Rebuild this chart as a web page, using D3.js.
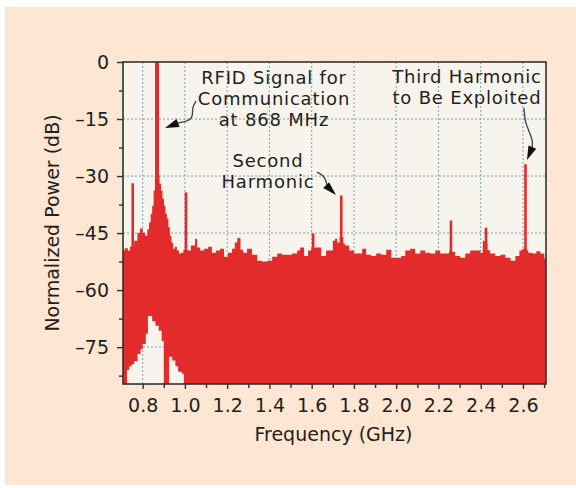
<!DOCTYPE html>
<html>
<head>
<meta charset="utf-8">
<script src="https://cdn.jsdelivr.net/npm/d3@7/dist/d3.min.js"></script>
<style>
  html, body { margin: 0; padding: 0; background: #ffffff; }
  svg { display: block; }
  text { font-family: "DejaVu Sans", sans-serif; fill: #231f20; }
</style>
</head>
<body>
<svg id="chart" width="576" height="488"></svg>
<script>
// Upper envelope of the measured noise floor (GHz, dB)
const envFreq = [0.700, 0.715, 0.730, 0.740, 0.760, 0.775, 0.787, 0.800, 0.812, 0.822, 0.830, 0.838, 0.845,
  0.852, 0.858, 0.863, 0.874, 0.880, 0.887, 0.894, 0.901, 0.908, 0.915, 0.922, 0.929, 0.936, 0.944, 0.953,
  0.962, 0.972, 0.981, 0.993, 1.012, 1.019, 1.028, 1.038, 1.048, 1.058, 1.072, 1.090, 1.110, 1.128, 1.147,
  1.166, 1.185, 1.204, 1.223, 1.236, 1.248, 1.262, 1.275, 1.294, 1.318, 1.342, 1.365, 1.389, 1.413, 1.437,
  1.460, 1.484, 1.507, 1.531, 1.545, 1.564, 1.583, 1.598, 1.615, 1.626, 1.645, 1.668, 1.688, 1.700, 1.710,
  1.721, 1.732, 1.750, 1.758, 1.777, 1.801, 1.820, 1.839, 1.858, 1.882, 1.905, 1.929, 1.953, 1.977, 2.000,
  2.024, 2.043, 2.066, 2.090, 2.114, 2.137, 2.161, 2.185, 2.208, 2.232, 2.250, 2.268, 2.279, 2.303, 2.327,
  2.350, 2.374, 2.398, 2.410, 2.418, 2.432, 2.445, 2.469, 2.493, 2.517, 2.541, 2.564, 2.583, 2.597, 2.618,
  2.625, 2.644, 2.663, 2.682, 2.701, 2.710];
const envTop = [-49.6, -49.0, -49.6, -48.5, -47.0, -45.0, -43.8, -44.9, -45.7, -44.0, -42.2, -40.0, -37.8,
  -33.8, -30.0, -26.0, -29.8, -32.0, -33.8, -36.0, -37.8, -40.0, -41.2, -43.5, -45.7, -47.5, -49.1, -48.6,
  -49.6, -50.4, -50.2, -49.4, -49.6, -49.6, -48.3, -48.3, -46.5, -48.8, -49.6, -49.1, -48.6, -50.2, -49.6,
  -49.1, -51.2, -50.2, -49.1, -47.5, -46.5, -49.4, -50.2, -49.1, -50.7, -52.3, -52.5, -52.3, -51.2, -50.4,
  -50.7, -50.7, -50.4, -49.6, -48.8, -51.0, -49.6, -49.0, -48.8, -48.8, -51.0, -49.6, -49.6, -47.0, -46.5,
  -47.5, -46.0, -47.8, -48.3, -49.6, -50.4, -50.4, -49.1, -50.7, -51.0, -50.4, -50.7, -49.4, -51.5, -51.5,
  -51.0, -49.6, -49.1, -50.4, -49.6, -50.2, -50.4, -49.6, -50.4, -50.4, -49.8, -50.0, -51.0, -51.5, -50.4,
  -49.6, -49.6, -50.2, -47.0, -47.5, -49.5, -50.4, -51.0, -50.7, -51.5, -52.3, -51.0, -49.6, -49.1, -49.5,
  -50.2, -50.4, -49.8, -50.4, -51.7, -51.7];

// Openings at the bottom of the noise band (GHz, dB of the lowest sample reached)
const gapFreq = [0.722, 0.726, 0.736, 0.748, 0.760, 0.776, 0.790, 0.800, 0.815, 0.825, 0.845, 0.860, 0.876, 0.890, 0.900];
const gapLow  = [-85, -81.0, -80.0, -79.5, -78.7, -76.8, -75.5, -74.2, -71.5, -66.8, -68.1, -69.4, -70.7, -73.4, -85];
const gap2Freq = [0.915, 0.925, 0.940, 0.955, 0.968, 0.985, 0.995];
const gap2Low  = [-85, -77.5, -78.5, -80.0, -81.5, -82.0, -85];

// Discrete spectral lines (GHz, dB)
const lineFreq = [0.753, 0.868, 1.005, 1.256, 1.607, 1.740, 2.259, 2.425, 2.612];
const lineDb   = [-31.9, 0, -34.3, -46.3, -45.1, -35.1, -41.7, -43.6, -26.9];

// Axis ticks
const xTicks = [0.8, 1.0, 1.2, 1.4, 1.6, 1.8, 2.0, 2.2, 2.4, 2.6];
const xMinor = [0.9, 1.1, 1.3, 1.5, 1.7, 1.9, 2.1, 2.3, 2.5, 2.7];
const yTicks = [0, -15, -30, -45, -60, -75];
const yMinor = [-7.5, -22.5, -37.5, -52.5, -67.5, -82.5];

// Callouts
const rfidText = ["RFID Signal for", "Communication", "at 868 MHz"];
const secondText = ["Second", "Harmonic"];
const thirdText = ["Third Harmonic", "to Be Exploited"];

const svg = d3.select("#chart");
const RED = "#e22b2a";
const PLOT_BG = "#f6f4ec";

svg.append("rect").attr("x", 5).attr("y", 7).attr("width", 571).attr("height", 478).attr("fill", "#fde7d2");

const L = 123, T = 62, R = 546, B = 384;
const x = d3.scaleLinear().domain([0.707, 2.709]).range([L, R]);
const y = d3.scaleLinear().domain([-84.7, 0]).range([B, T]);

svg.append("rect").attr("x", L).attr("y", T).attr("width", R - L).attr("height", B - T).attr("fill", PLOT_BG);

// dotted grid
const grid = svg.append("g").attr("stroke", "#7f9db0").attr("stroke-width", 1).attr("stroke-dasharray", "2,2");
grid.selectAll("line.v").data(xTicks).join("line")
  .attr("x1", d => x(d)).attr("x2", d => x(d)).attr("y1", T).attr("y2", B);
grid.selectAll("line.h").data(yTicks.filter(d => d !== 0)).join("line")
  .attr("x1", L).attr("x2", R).attr("y1", d => y(d)).attr("y2", d => y(d));

// clip + mask for the noise band
const defs = svg.append("defs");
defs.append("clipPath").attr("id", "plotClip").append("rect")
  .attr("x", L).attr("y", T).attr("width", R - L).attr("height", B - T);
const mask = defs.append("mask").attr("id", "gapMask");
mask.append("rect").attr("x", 0).attr("y", 0).attr("width", 576).attr("height", 488).attr("fill", "white");
const gapArea = d3.area().x(d => x(d[0])).y0(y(-84.7)).y1(d => y(d[1])).curve(d3.curveStepAfter);
mask.append("path").attr("d", gapArea(gapFreq.map((f, i) => [f, gapLow[i]]))).attr("fill", "black");
mask.append("path").attr("d", gapArea(gap2Freq.map((f, i) => [f, gap2Low[i]]))).attr("fill", "black");

const plot = svg.append("g").attr("clip-path", "url(#plotClip)");
const band = d3.area().x(d => x(d[0])).y0(y(-84.7)).y1(d => y(d[1])).curve(d3.curveStepAfter);
plot.append("path")
  .attr("d", band(envFreq.map((f, i) => [f, envTop[i]])))
  .attr("fill", RED).attr("mask", "url(#gapMask)");

plot.selectAll("line.spike").data(lineFreq.map((f, i) => [f, lineDb[i]])).join("line")
  .attr("x1", d => x(d[0])).attr("x2", d => x(d[0]))
  .attr("y1", y(-60)).attr("y2", d => y(d[1]))
  .attr("stroke", RED).attr("stroke-width", d => d[1] === 0 ? 4 : 2.6);

// frame
svg.append("rect").attr("x", L).attr("y", T).attr("width", R - L).attr("height", B - T)
  .attr("fill", "none").attr("stroke", "#2c3336").attr("stroke-width", 1.6);

// axes
const fmtY = d => d === 0 ? "0" : "\u2013" + Math.abs(d);
svg.append("g").attr("transform", `translate(${L},0)`)
  .call(d3.axisLeft(y).tickValues(yTicks).tickSize(6).tickPadding(8).tickFormat(fmtY));
svg.append("g").attr("transform", `translate(${L},0)`)
  .call(d3.axisLeft(y).tickValues(yMinor).tickSize(4).tickFormat(""));
svg.append("g").attr("transform", `translate(0,${B})`)
  .call(d3.axisBottom(x).tickValues(xTicks).tickSize(5).tickPadding(10).tickFormat(d3.format(".1f")));
svg.append("g").attr("transform", `translate(0,${B})`)
  .call(d3.axisBottom(x).tickValues(xMinor).tickSize(4).tickFormat(""));
svg.selectAll(".domain").remove();
svg.selectAll(".tick line").attr("stroke", "#2c3336").attr("stroke-width", 1.4);
svg.selectAll(".tick text").style("font-family", "'DejaVu Sans', sans-serif").style("font-size", "19px").attr("fill", "#231f20");

// axis titles
svg.append("text").attr("x", (L + R) / 2 - 1).attr("y", 441).attr("text-anchor", "middle")
  .style("font-size", "19px").text("Frequency (GHz)");
svg.append("text").attr("transform", `translate(59,${(T + B) / 2}) rotate(-90)`).attr("text-anchor", "middle")
  .style("font-size", "19px").text("Normalized Power (dB)");

// callout text, one text element per line
function block(lines, f, db, lh) {
  lines.forEach((s, i) => svg.append("text")
    .attr("text-anchor", "middle")
    .attr("x", x(f)).attr("y", y(db) + i * lh)
    .style("font-size", "18px").style("letter-spacing", "0.8px")
    .text(s));
}
block(rfidText, 1.4216, -5.79, 20.8);
block(secondText, 1.3932, -27.6, 20.8);
block(thirdText, 2.335, -5.53, 21);

// callout arrows: curved leader ending in a filled head
function arrow(pts, tip) {
  const P = pts.map(p => [x(p[0]), y(p[1])]);
  const t = [x(tip[0]), y(tip[1])];
  svg.append("path").attr("d", d3.line().curve(d3.curveBasis)(P))
    .attr("fill", "none").attr("stroke", "#33434a").attr("stroke-width", 1.3);
  const b = P[P.length - 1];
  const dx = t[0] - b[0], dy = t[1] - b[1], len = Math.hypot(dx, dy);
  const ux = dx / len, uy = dy / len, w = 4.2;
  const base = [t[0] - ux * 14, t[1] - uy * 14];
  svg.append("path")
    .attr("d", `M${t[0]},${t[1]}L${base[0] - uy * w},${base[1] + ux * w}L${base[0] + uy * w},${base[1] - ux * w}Z`)
    .attr("fill", "#111");
}
arrow([[1.0525, -10.26], [1.0335, -12.11], [1.0383, -14.21], [1.0193, -15.53], [0.9673, -16.05]], [0.9058, -17.37]);
arrow([[1.6251, -28.95], [1.6535, -29.74], [1.6677, -31.05], [1.6725, -32.63]], [1.7151, -35.0]);
arrow([[2.6048, -12.11], [2.6095, -15.79], [2.6284, -18.16], [2.6474, -20.79], [2.6426, -22.63]], [2.6190, -25.79]);
</script>
</body>
</html>
